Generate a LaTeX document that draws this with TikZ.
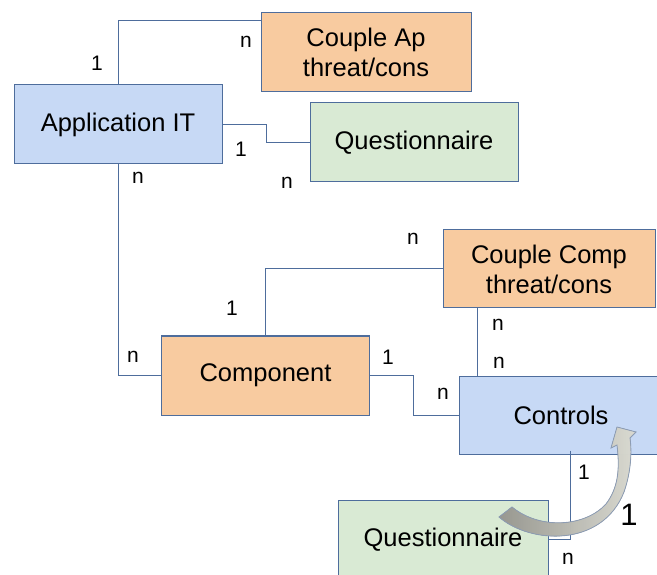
\documentclass[tikz,border=0pt]{standalone}
\usepackage{fontspec}
\setmainfont{Liberation Sans}
\definecolor{boxline}{HTML}{4E6D9C}
\definecolor{apricot}{HTML}{F8CBA0}
\definecolor{skyblue}{HTML}{C7D9F5}
\definecolor{sage}{HTML}{D9EAD4}
\definecolor{arrowdark}{HTML}{A6A69E}
\definecolor{arrowlight}{HTML}{F0F0E6}
\definecolor{arrowline}{HTML}{8C9CB4}

\begin{document}
\begin{tikzpicture}[x=1pt,y=-1pt,
    entity/.style={draw=boxline, line width=1pt, minimum width=208pt, minimum height=79pt,
      align=center, inner sep=0pt, font=\fontsize{25.5}{30}\selectfont},
    link/.style={draw=boxline, line width=1pt},
    card/.style={font=\fontsize{21}{21}\selectfont, inner sep=0pt}]
  \useasboundingbox (0,0) rectangle (657,575);
  \clip (0,0) rectangle (657,575);
  \node[entity, fill=apricot, minimum width=210pt] (coupleap) at (366,52.5) {Couple Ap\\threat/cons};
  \node[entity, fill=skyblue] (appit) at (118,124.5) {Application IT};
  \node[entity, fill=sage] (quest1) at (414,142.5) {Questionnaire};
  \node[entity, fill=apricot, minimum width=212pt, minimum height=78pt] (couplecomp) at (549,269) {Couple Comp\\threat/cons};
  \node[entity, fill=apricot] (component) at (265.5,375.5) {Component};
  \node[entity, fill=skyblue, minimum width=204pt, minimum height=78pt] (controls) at (561,415) {Controls};
  \node[entity, fill=sage, minimum width=210pt] (quest2) at (443,539.5) {Questionnaire};
  \coordinate (ccfoot) at ([xshift=35pt]couplecomp.south west);
  \coordinate (ctfoot) at ([xshift=112pt, yshift=4pt]controls.south west);
  \draw[link] (appit.north) |- ([yshift=-8pt]coupleap.north west);
  \draw[link] (appit.east) -- ++(44,0) |- (quest1.west);
  \draw[link] (appit.south) |- (component.west);
  \draw[link] (component.north) |- (couplecomp.west);
  \draw[link] (ccfoot) -- (ccfoot |- controls.north);
  \draw[link] (component.east) -- ++(43,0) |- (controls.west);
  \draw[link] (ctfoot) |- (quest2.east);
  \node[card] (c1) at (97,63) {1};
  \node[card] (c2) at (246,42) {n};
  \node[card] (c3) at (241,149) {1};
  \node[card] (c4) at (287,183) {n};
  \node[card] (c5) at (138,178) {n};
  \node[card] (c6) at (133,357) {n};
  \node[card] (c7) at (232,308) {1};
  \node[card] (c8) at (413,239) {n};
  \node[card] (c9) at (498,325) {n};
  \node[card] (c10) at (499,363) {n};
  \node[card] (c11) at (388,357) {1};
  \node[card] (c12) at (443,394) {n};
  \node[card] (c13) at (584,472) {1};
  \node[card] (c14) at (568,559) {n};
  \fill[left color=arrowdark, right color=arrowlight, fill opacity=0.9]
    (499,517) .. controls (530,544) and (602,548) .. (624,492)
    .. controls (631,472) and (632,452) .. (630,438) -- (636,432) -- (617,427)
    -- (611,448) -- (617,445) .. controls (620,470) and (618,488) .. (606,504)
    .. controls (585,527) and (540,530) .. (512,507) -- cycle;
  \draw[arrowline, line width=0.8pt]
    (499,517) .. controls (530,544) and (602,548) .. (624,492)
    .. controls (631,472) and (632,452) .. (630,438) -- (636,432) -- (617,427)
    -- (611,448) -- (617,445) .. controls (620,470) and (618,488) .. (606,504)
    .. controls (585,527) and (540,530) .. (512,507) -- cycle;
  \node[font=\fontsize{31}{31}\selectfont, inner sep=0pt] (big1) at (629,515) {1};
\end{tikzpicture}
\end{document}
